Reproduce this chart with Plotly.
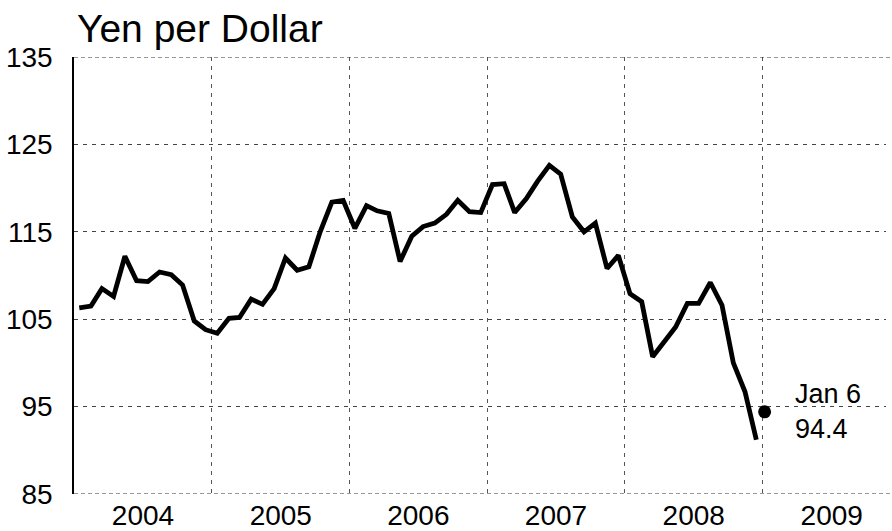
import plotly.graph_objects as go
import pandas as pd

# Monthly averages, Jan 2004 - Dec 2008 (yen per dollar)
months = pd.date_range("2004-01-01", periods=60, freq="MS") + pd.Timedelta(days=14)
yen_2004 = [106.3, 106.5, 108.5, 107.6, 112.2, 109.4, 109.3, 110.4, 110.1, 108.9, 104.8, 103.8]
yen_2005 = [103.4, 105.1, 105.2, 107.3, 106.7, 108.5, 112.0, 110.6, 111.0, 115.0, 118.4, 118.6]
yen_2006 = [115.4, 118.0, 117.4, 117.1, 111.6, 114.5, 115.6, 116.0, 117.0, 118.6, 117.3, 117.2]
yen_2007 = [120.4, 120.5, 117.2, 118.8, 120.8, 122.6, 121.6, 116.7, 115.0, 116.0, 110.8, 112.3]
yen_2008 = [107.9, 107.0, 100.7, 102.4, 104.1, 106.8, 106.8, 109.2, 106.6, 100.0, 96.7, 91.2]
yen = yen_2004 + yen_2005 + yen_2006 + yen_2007 + yen_2008

latest_date = "2009-01-06"
latest_value = 94.4
latest_label = "Jan 6<br>94.4"

y_ticks = [85, 95, 105, 115, 125, 135]

FONT = "Liberation Sans, Arial, sans-serif"

fig = go.Figure()
fig.add_trace(go.Scatter(x=months, y=yen, mode="lines",
                         line=dict(color="black", width=4.8), hoverinfo="skip"))
fig.add_trace(go.Scatter(x=[latest_date], y=[latest_value], mode="markers",
                         marker=dict(color="black", size=13), hoverinfo="skip"))

fig.add_annotation(x=latest_date, y=latest_value, text=latest_label, showarrow=False,
                   xanchor="left", yanchor="middle", align="left", xshift=28,
                   font=dict(family=FONT, size=27, color="black"))

# top and bottom frame lines (run to the page edge)
for yv in (85, 135):
    fig.add_shape(type="line", xref="paper", yref="y", x0=0, x1=818/812, y0=yv, y1=yv,
                  line=dict(color="#333333", width=1.2, dash="4px,3px"))

fig.update_layout(
    width=892, height=531,
    margin=dict(l=74, r=6, t=57, b=37, autoexpand=False),
    paper_bgcolor="white", plot_bgcolor="white",
    showlegend=False,
    font=dict(family=FONT, size=27, color="black"),
    title=dict(text="Yen per Dollar", x=77/892, xanchor="left", xref="container",
               y=1 - 28/531, yanchor="middle", yref="container",
               font=dict(family=FONT, size=39, color="black")),
    xaxis=dict(type="date", range=["2004-01-01", "2009-11-24"], automargin=False,
               tick0="2004-01-01", dtick="M12", tickformat="%Y",
               ticklabelmode="period", ticks="", showline=False,
               showgrid=True, gridcolor="#555555", gridwidth=1.2, griddash="4px,5px",
               zeroline=False, ticklabelstandoff=2,
               tickfont=dict(family=FONT, size=28, color="black")),
    yaxis=dict(range=[85, 135], tickvals=y_ticks, ticks="", automargin=False,
               showline=True, linecolor="black", linewidth=1.5,
               showgrid=True, gridcolor="#444444", gridwidth=1.2, griddash="4px,5px",
               zeroline=False, ticklabelstandoff=14,
               tickfont=dict(family=FONT, size=28, color="black")),
)

fig.write_html("out.html", config={"displayModeBar": False},
               post_script="document.body.style.margin='0';document.body.style.overflow='hidden';")
